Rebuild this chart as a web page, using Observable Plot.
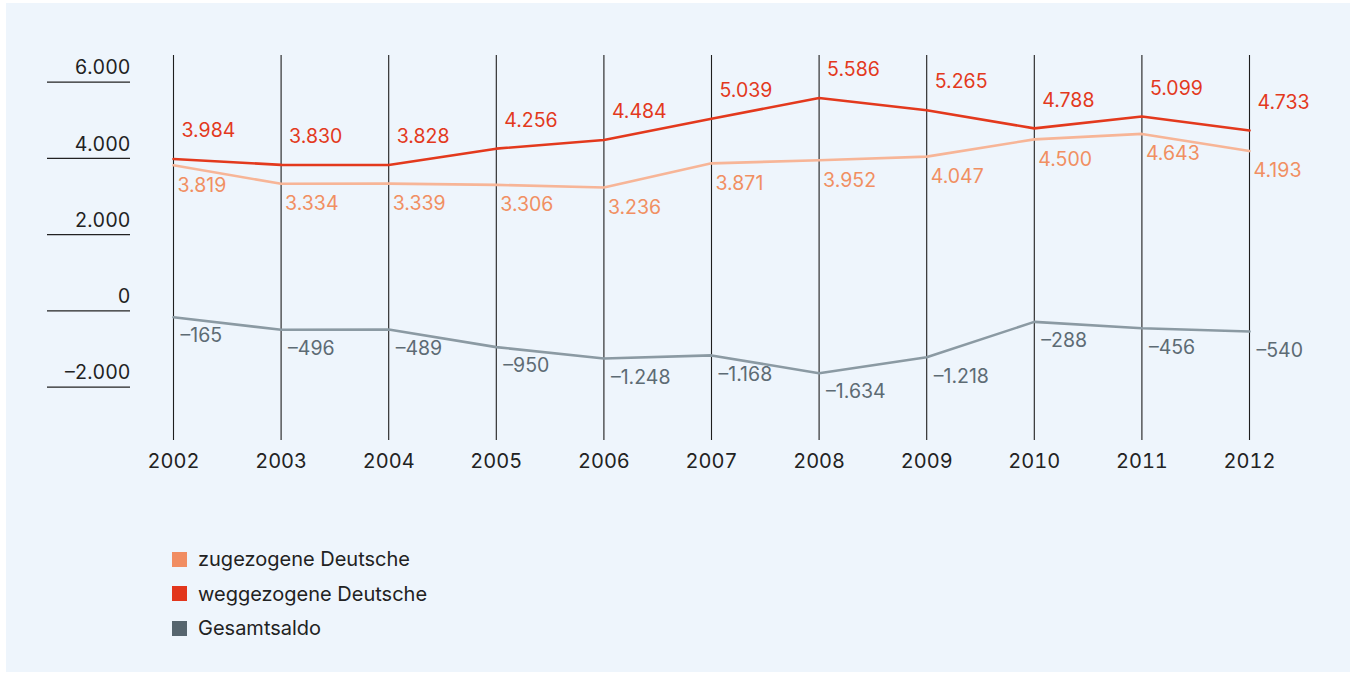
<!DOCTYPE html>
<html>
<head>
<meta charset="utf-8">
<script src="https://cdn.jsdelivr.net/npm/d3@7"></script>
<script src="https://cdn.jsdelivr.net/npm/@observablehq/plot@0.6"></script>
<style>
  html, body { margin: 0; padding: 0; background: #ffffff; }
  body { width: 1356px; height: 674px; position: relative; overflow: hidden; font-family: Inter, "Liberation Sans", sans-serif; }
  #panel { position: absolute; left: 6px; top: 3px; width: 1344px; height: 669px; background: #eef5fc; }
  #chart { position: absolute; left: 0; top: 0; }
  #legend { position: absolute; left: 172px; top: 542px; font-size: 20px; color: #222; }
  .row { display: flex; align-items: center; height: 34.5px; }
  .sw { width: 15px; height: 15px; margin-right: 11px; }
</style>
</head>
<body>
<div id="panel"></div>
<div id="chart"></div>
<div id="legend"></div>
<script>
const years = [2002, 2003, 2004, 2005, 2006, 2007, 2008, 2009, 2010, 2011, 2012];
const zugezogene = [3819, 3334, 3339, 3306, 3236, 3871, 3952, 4047, 4500, 4643, 4193];
const weggezogene = [3984, 3830, 3828, 4256, 4484, 5039, 5586, 5265, 4788, 5099, 4733];
const gesamtsaldo = [-165, -496, -489, -950, -1248, -1168, -1634, -1218, -288, -456, -540];
const yTicks = [-2000, 0, 2000, 4000, 6000];
const seriesNames = ["zugezogene Deutsche", "weggezogene Deutsche", "Gesamtsaldo"];

const colors = {
  zuLine: "#f7b597", zuText: "#f18f62", zuKey: "#f18d62",
  wegLine: "#e3391d", wegText: "#e3391d", wegKey: "#e2361c",
  saldoLine: "#8b9aa3", saldoText: "#5d6b74", saldoKey: "#56656e"
};

const de = d3.formatLocale({decimal: ",", thousands: ".", grouping: [3], currency: ["", " €"], minus: "\u2013"});
const fmt = de.format(",d");

const toRows = (vals) => years.map((y, i) => ({year: y, value: vals[i]}));
const zu = toRows(zugezogene), weg = toRows(weggezogene), saldo = toRows(gesamtsaldo);

const font = "Inter, 'Liberation Sans', sans-serif";

const chart = Plot.plot({
  width: 1356,
  height: 490,
  marginLeft: 173,
  marginRight: 107,
  marginTop: 55,
  marginBottom: 50,
  style: {background: "transparent", fontFamily: font, fontSize: "19.5px", color: "#222"},
  x: {domain: [2002, 2012]},
  y: {domain: [-3400, 6700]},
  marks: [
    Plot.gridX(years, {stroke: "#1e1e1e", strokeOpacity: 1, strokeWidth: 1.1}),
    Plot.axisX(years, {tickSize: 0, tickPadding: 13, tickFormat: d => String(d), fontSize: 20, fill: "#222", label: null}),
    Plot.axisY(yTicks, {anchor: "left", tickSize: 83, dx: -43, stroke: "#222", strokeWidth: 1.2, text: null, label: null}),
    Plot.axisY(yTicks, {anchor: "left", tickSize: 0, tickPadding: 0, dx: -43, dy: -14, tickFormat: fmt, fontSize: 19.5, fill: "#222", label: null}),
    Plot.line(zu, {x: "year", y: "value", stroke: colors.zuLine, strokeWidth: 2.6}),
    Plot.line(weg, {x: "year", y: "value", stroke: colors.wegLine, strokeWidth: 2.6}),
    Plot.line(saldo, {x: "year", y: "value", stroke: colors.saldoLine, strokeWidth: 2.6}),
    Plot.text(weg, {x: "year", y: "value", text: d => fmt(d.value), dx: 8, dy: -28, textAnchor: "start", fill: colors.wegText, fontSize: 19.5}),
    Plot.text(zu, {x: "year", y: "value", text: d => fmt(d.value), dx: 4, dy: 20, textAnchor: "start", fill: colors.zuText, fontSize: 19.5}),
    Plot.text(saldo, {x: "year", y: "value", text: d => fmt(d.value), dx: 7, dy: 19, textAnchor: "start", fill: colors.saldoText, fontSize: 19.5})
  ]
});
document.getElementById("chart").appendChild(chart);

const keyColors = [colors.zuKey, colors.wegKey, colors.saldoKey];
const legend = document.getElementById("legend");
seriesNames.forEach((name, i) => {
  const row = document.createElement("div");
  row.className = "row";
  const sw = document.createElement("div");
  sw.className = "sw";
  sw.style.background = keyColors[i];
  const label = document.createElement("span");
  label.textContent = name;
  row.appendChild(sw);
  row.appendChild(label);
  legend.appendChild(row);
});
</script>
</body>
</html>
